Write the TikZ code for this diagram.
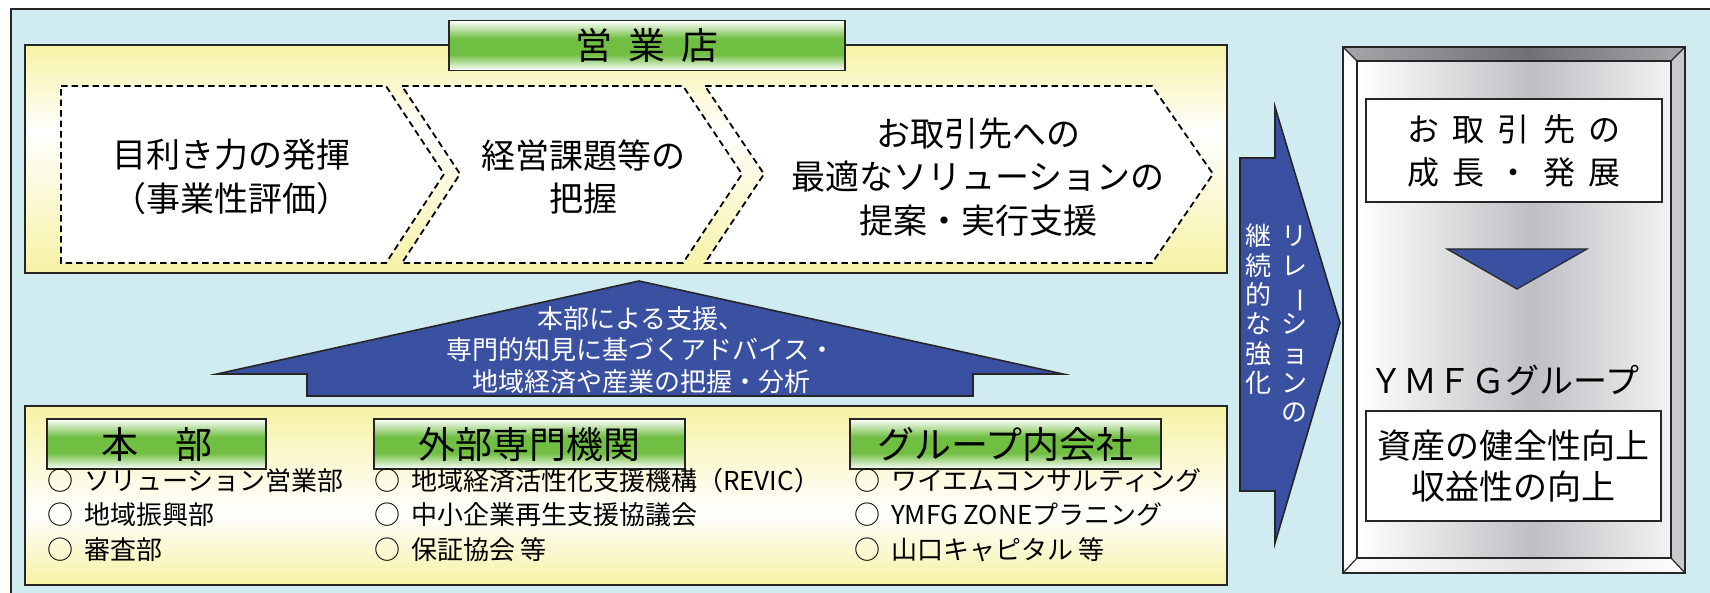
\documentclass[tikz,border=0pt]{standalone}
\usepackage{fontspec}
\setmainfont{Noto Sans CJK JP}
\usepackage{graphicx}
\definecolor{bgblue}{RGB}{208,236,240}
\definecolor{ylw}{RGB}{246,242,164}
\definecolor{grn}{RGB}{112,190,66}
\definecolor{navy}{RGB}{58,81,161}
\definecolor{edge}{RGB}{38,38,38}
\definecolor{silv}{RGB}{190,191,195}
\definecolor{bevA}{RGB}{165,166,170}
\definecolor{bevB}{RGB}{112,113,118}
\definecolor{bevR}{RGB}{200,201,204}
\pgfdeclareverticalshading{greenbar}{100bp}{color(0bp)=(white); color(25bp)=(white); color(41bp)=(grn); color(57bp)=(grn); color(75bp)=(white); color(100bp)=(white)}
\pgfdeclareverticalshading{yelA}{100bp}{color(0bp)=(ylw); color(25bp)=(ylw); color(56bp)=(white); color(75bp)=(ylw); color(100bp)=(ylw)}
\pgfdeclareverticalshading{yelB}{100bp}{color(0bp)=(ylw); color(25bp)=(ylw); color(45bp)=(white); color(75bp)=(ylw); color(100bp)=(ylw)}
\pgfdeclarehorizontalshading{silverface}{100bp}{color(0bp)=(white); color(25bp)=(white); color(53bp)=(silv); color(75bp)=(white!80!silv); color(100bp)=(white!80!silv)}
\pgfdeclarehorizontalshading{topbevel}{100bp}{color(0bp)=(bevA); color(25bp)=(bevA); color(52bp)=(bevB); color(75bp)=(bevA); color(100bp)=(bevA)}
\pgfdeclarehorizontalshading{botbevel}{100bp}{color(0bp)=(white); color(25bp)=(white); color(53bp)=(white!55!silv); color(75bp)=(white); color(100bp)=(white)}
\newcommand\gap{\hspace{0.42em}}
\newcommand\bul{○\hspace{0.42em}}
\begin{document}
\begin{tikzpicture}[x=1pt,y=-1pt,
  frame/.style={draw=edge,line width=1.6pt},
  chev/.style={fill=white,draw=black,line width=1.8pt,dash pattern=on 6.5pt off 4pt},
  chevtxt/.style={align=center,inner sep=0pt,font=\fontsize{34}{43.5}\selectfont},
  greenbox/.style={frame,shade,shading=greenbar,inner sep=0pt,minimum height=50pt,font=\fontsize{37}{37}\selectfont},
  listtxt/.style={anchor=west,inner sep=0pt,font=\fontsize{26}{26}\selectfont,text height=0.88em,text depth=0.12em},
  vt/.style={inner sep=0pt,text=white,font=\fontsize{26}{26}\selectfont,text height=0.88em,text depth=0.12em},
  whitebox/.style={frame,fill=white,inner sep=0pt,align=center}]
\clip (0,0) rectangle (1710,592);
\fill[white] (0,0) rectangle (1710,592);
% outer frame
\draw[frame,fill=bgblue] (11,9) rectangle (1740,620);
% upper yellow panel
\draw[frame,shade,shading=yelA] (25,45) rectangle (1227,273);
\node[greenbox,minimum width=396pt] (eigyo) at (647,45.5) {営\gap 業\gap 店};
% chevrons
\draw[chev] (61,86) -- (386,86) -- (444,174) -- (386,263) -- (61,263) -- cycle;
\draw[chev] (402,86) -- (683,86) -- (742,174) -- (683,263) -- (402,263) -- (460,174) -- cycle;
\draw[chev] (705,86) -- (1152,86) -- (1213,174) -- (1152,263) -- (705,263) -- (764,174) -- cycle;
\node[chevtxt] (c1) at (231,177) {目利き力の発揮\\（事業性評価）};
\node[chevtxt] (c2) at (583,177) {経営課題等の\\把握};
\node[chevtxt] (c3) at (978,177) {お取引先への\\最適なソリューションの\\提案・実行支援};
% up arrow
\draw[frame,fill=navy] (639,281) -- (1063,374) -- (973,374) -- (973,396) -- (307,396) -- (307,374) -- (217,374) -- cycle;
\node[align=center,inner sep=0pt,text=white,font=\fontsize{26}{31.5}\selectfont] (support) at (641,350) {本部による支援、\\専門的知見に基づくアドバイス・\\地域経済や産業の把握・分析};
% lower yellow panel
\draw[frame,shade,shading=yelB] (25,406) rectangle (1227,585);
\node[greenbox,minimum width=219pt] (honbu) at (156.5,444) {本　部};
\node[greenbox,minimum width=311pt] (gaibu) at (529.5,444) {外部専門機関};
\node[greenbox,minimum width=311pt] (group) at (1005.5,444) {グループ内会社};
\node[listtxt] (h1) at (47,487) {\bul ソリューション営業部};
\node[listtxt] (h2) at (47,521) {\bul 地域振興部};
\node[listtxt] (h3) at (47,556) {\bul 審査部};
\node[listtxt] (g1) at (374,487) {\bul 地域経済活性化支援機構（REVIC）};
\node[listtxt] (g2) at (374,521) {\bul 中小企業再生支援協議会};
\node[listtxt] (g3) at (374,556) {\bul 保証協会 等};
\node[listtxt] (k1) at (854,487) {\bul ワイエムコンサルティング};
\node[listtxt] (k2) at (854,521) {\bul YMFG ZONEプラニング};
\node[listtxt] (k3) at (854,556) {\bul 山口キャピタル 等};
% right blue arrow
\draw[frame,fill=navy] (1240,158) -- (1275,158) -- (1275,107) -- (1340,323) -- (1275,543) -- (1275,491) -- (1240,491) -- cycle;
\foreach \ch [count=\i] in {継,続,的,な,強,化}
  \node[vt] (l\i) at (1258,{242+29.3*(\i-1)}) {\ch};
\node[vt] (r1) at (1294,242) {リ};
\node[vt] (r2) at (1294,271.3) {レ};
\node[vt,rotate=-90] (r3) at (1294,300.6) {ー};
\node[vt] (r4) at (1294,329.9) {シ};
\node[vt] (r5) at (1295,359.2) {ョ};
\node[vt] (r6) at (1294,388.5) {ン};
\node[vt] (r7) at (1294,417.8) {の};
% YMFG panel
\path[shade,shading=topbevel] (1343,47) -- (1685,47) -- (1671,61) -- (1357,61) -- cycle;
\fill[white] (1343,47) -- (1357,61) -- (1357,558) -- (1343,573) -- cycle;
\fill[bevR] (1685,47) -- (1685,573) -- (1671,558) -- (1671,61) -- cycle;
\path[shade,shading=botbevel] (1343,573) -- (1685,573) -- (1671,558) -- (1357,558) -- cycle;
\path[shade,shading=silverface] (1357,61) rectangle (1671,558);
\draw[edge,line width=1.6pt] (1343,47) rectangle (1685,573);
\draw[edge,line width=1.4pt] (1357,61) rectangle (1671,558);
\draw[edge,line width=1.2pt] (1343,47) -- (1357,61) (1685,47) -- (1671,61) (1343,573) -- (1357,558) (1685,573) -- (1671,558);
\node[whitebox,minimum width=296pt,minimum height=103pt,font=\fontsize{32}{43}\selectfont] (grow) at (1514,150.5) {お\gap 取\gap 引\gap 先\gap の\\成\gap 長\gap ・\gap 発\gap 展};
\draw[edge,line width=1.2pt,fill=navy] (1447,249) -- (1587,249) -- (1517,289) -- cycle;
\node[inner sep=0pt,font=\fontsize{34}{34}\selectfont] (ymfg) at (1504,380) {ＹＭＦＧグループ};
\node[whitebox,minimum width=295pt,minimum height=110pt,font=\fontsize{34}{41}\selectfont] (asset) at (1513.5,466) {資産の健全性向上\\収益性の向上};
\end{tikzpicture}
\end{document}
